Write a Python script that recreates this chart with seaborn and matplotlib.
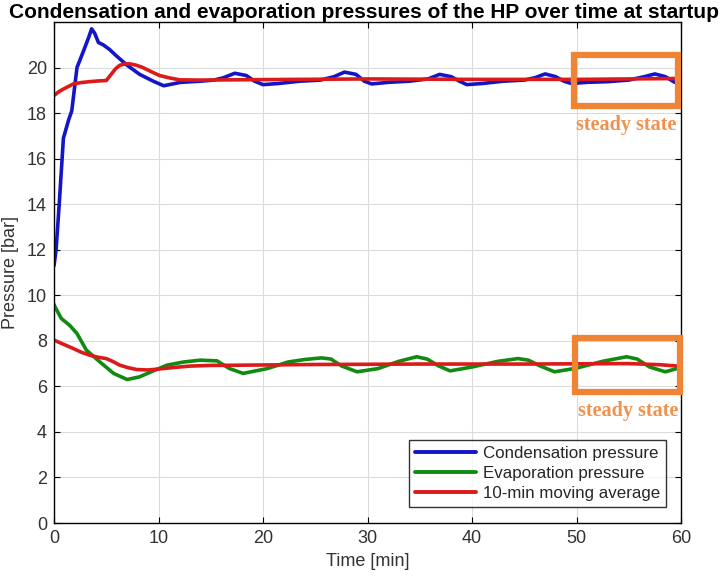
import numpy as np
import pandas as pd
import matplotlib
matplotlib.use("Agg")
import matplotlib.pyplot as plt
from matplotlib.patches import Rectangle
from matplotlib import font_manager
import seaborn as sns

# ---------------- data ----------------
cond_t = [0, 0.2, 0.5, 0.9, 1.4, 1.7, 2.2, 2.8, 3.3, 3.6, 3.9, 4.25, 4.7, 5.3, 6.0, 7.0,
          8.2, 9.5, 10.5, 12.1, 14, 15.3, 16.2, 17.3, 18.4, 19.2, 20.0, 21.5, 23.5, 25.5,
          26.8, 27.8, 28.9, 29.7, 30.4, 32, 34, 35.8, 36.9, 38, 38.8, 39.5, 41, 43, 45,
          46, 47, 48, 48.8, 49.5, 51, 53, 55, 56.5, 57.5, 58.5, 59.4, 60]
cond_p = [11.3, 12.0, 14.0, 16.9, 17.7, 18.1, 20.0, 20.7, 21.3, 21.7, 21.5, 21.1, 21.0, 20.8,
          20.5, 20.1, 19.7, 19.4, 19.2, 19.35, 19.4, 19.45, 19.55, 19.75, 19.65, 19.4, 19.25,
          19.3, 19.4, 19.45, 19.6, 19.8, 19.7, 19.4, 19.28, 19.35, 19.4, 19.5, 19.7, 19.6,
          19.4, 19.25, 19.3, 19.4, 19.45, 19.55, 19.72, 19.6, 19.4, 19.3, 19.35, 19.38,
          19.45, 19.6, 19.72, 19.6, 19.35, 19.3]

cond_avg_t = [0, 0.5, 1, 1.85, 2.6, 3.4, 4.2, 5.0, 5.5, 5.9, 6.3, 6.8, 7.3, 7.9, 8.5, 9.3,
              10.1, 11, 12, 14, 20, 30, 40, 50, 55, 60]
cond_avg_p = [18.77, 18.95, 19.08, 19.28, 19.34, 19.38, 19.41, 19.43, 19.72, 19.95, 20.1,
              20.16, 20.16, 20.1, 20.0, 19.82, 19.65, 19.55, 19.46, 19.45, 19.47, 19.5,
              19.48, 19.48, 19.5, 19.52]

evap_t = [0, 0.1, 0.7, 1.5, 2.2, 3.1, 4.4, 5.7, 7.0, 8.2, 9.5, 10.8, 12.4, 14, 15.6, 16.8,
          18.1, 20.4, 22.4, 24, 25.6, 26.5, 27.5, 29, 31, 33, 34.7, 35.7, 36.8, 37.9, 40,
          42.5, 44.4, 45.4, 46.5, 47.9, 50, 52.5, 54.8, 55.8, 57, 58.5, 59.6, 60]
evap_p = [9.6, 9.49, 8.98, 8.68, 8.32, 7.59, 7.07, 6.57, 6.3, 6.42, 6.68, 6.93, 7.07, 7.15,
          7.12, 6.78, 6.57, 6.78, 7.07, 7.18, 7.25, 7.2, 6.9, 6.64, 6.78, 7.1, 7.3, 7.2, 6.9,
          6.68, 6.85, 7.1, 7.22, 7.15, 6.9, 6.64, 6.8, 7.1, 7.3, 7.2, 6.85, 6.64, 6.78, 6.8]

evap_avg_t = [0, 1, 1.85, 2.6, 3.4, 4.2, 5.0, 5.6, 6.3, 7.1, 7.9, 9, 10, 11.5, 13, 15, 17.8,
              25, 35, 45, 50, 55, 58, 60]
evap_avg_p = [8.03, 7.83, 7.66, 7.5, 7.37, 7.28, 7.22, 7.1, 6.93, 6.82, 6.74, 6.72, 6.76,
              6.83, 6.89, 6.92, 6.93, 6.96, 6.98, 6.98, 6.99, 7.0, 6.95, 6.88]

series_names = ["Condensation pressure", "Evaporation pressure", "10-min moving average"]
colors = ["#1515C8", "#118A11", "#DD1A1A"]

x_ticks = [0, 10, 20, 30, 40, 50, 60]
y_ticks = [0, 2, 4, 6, 8, 10, 12, 14, 16, 18, 20]

# steady-state boxes: (t0, t1, p0, p1)
box_upper = (49.8, 59.7, 18.3, 20.56)
box_lower = (49.9, 59.9, 5.75, 8.11)
box_label = "steady state"

title = "Condensation and evaporation pressures of the HP over time at startup"
xlabel = "Time [min]"
ylabel = "Pressure [bar]"

# ---------------- build table ----------------
frames = [
    pd.DataFrame({"t": cond_t, "p": cond_p, "series": series_names[0], "curve": "c"}),
    pd.DataFrame({"t": evap_t, "p": evap_p, "series": series_names[1], "curve": "e"}),
    pd.DataFrame({"t": cond_avg_t, "p": cond_avg_p, "series": series_names[2], "curve": "ca"}),
    pd.DataFrame({"t": evap_avg_t, "p": evap_avg_p, "series": series_names[2], "curve": "ea"}),
]
df = pd.concat(frames, ignore_index=True)

# ---------------- style ----------------
sns.set_theme(style="white")
available = {f.name for f in font_manager.fontManager.ttflist}
sans = "Liberation Sans" if "Liberation Sans" in available else "DejaVu Sans"
tick_font = "Liberation Sans Narrow" if "Liberation Sans Narrow" in available else sans
plt.rcParams["font.family"] = [sans, "DejaVu Sans"]

fig = plt.figure(figsize=(7.28, 5.85), dpi=100)
ax = fig.add_axes([54 / 728, 1 - 523 / 585, 627 / 728, 501 / 585])

sns.lineplot(data=df, x="t", y="p", hue="series", units="curve", estimator=None,
             hue_order=series_names, palette=dict(zip(series_names, colors)),
             linewidth=2.6, ax=ax, sort=False)

ax.set_xlim(0, 60)
ax.set_ylim(0, 22)
ax.set_xticks(x_ticks)
ax.set_yticks(y_ticks)
ax.grid(True, color="#DCDCDC", linewidth=0.8)
ax.set_axisbelow(True)
for s in ax.spines.values():
    s.set_color("black")
    s.set_linewidth(1.0)
ax.tick_params(direction="in", length=4, width=0.8, top=True, right=True,
               bottom=True, left=True, colors="black", labelcolor="#333333",
               labelsize=13, pad=5)
for lab in ax.get_xticklabels() + ax.get_yticklabels():
    lab.set_fontfamily(tick_font)

ax.set_xlabel(xlabel, fontsize=13, color="#333333", family=tick_font, labelpad=4)
ax.set_ylabel(ylabel, fontsize=13, color="#333333", family=tick_font, labelpad=6)
fig.text(0.5, 1 - 12 / 585, title, ha="center", va="center", fontsize=15,
         fontweight="bold", color="black")

# legend
handles, labels = ax.get_legend_handles_labels()
leg = ax.legend(handles, labels, loc="lower right", bbox_to_anchor=(0.976, 0.032),
                borderaxespad=0, fontsize=12.2, frameon=True, fancybox=False,
                handlelength=3.6, handletextpad=0.4, borderpad=0.35, labelspacing=0.3,
                edgecolor="black")
leg.get_frame().set_linewidth(1.0)
for line in leg.get_lines():
    line.set_linewidth(2.8)

# steady-state boxes
orange = "#EE8434"
for (t0, t1, p0, p1) in (box_upper, box_lower):
    ax.add_patch(Rectangle((t0, p0), t1 - t0, p1 - p0, fill=False, edgecolor=orange,
                           linewidth=4.5, clip_on=False, zorder=5))
    ax.text((t0 + t1) / 2, p0 - 0.4, box_label, ha="center", va="top",
            fontsize=14.5, fontweight="bold", color="#F0924E",
            family=["Liberation Serif", "DejaVu Serif"], clip_on=False, zorder=6)

fig.savefig("out.png", dpi=100)
